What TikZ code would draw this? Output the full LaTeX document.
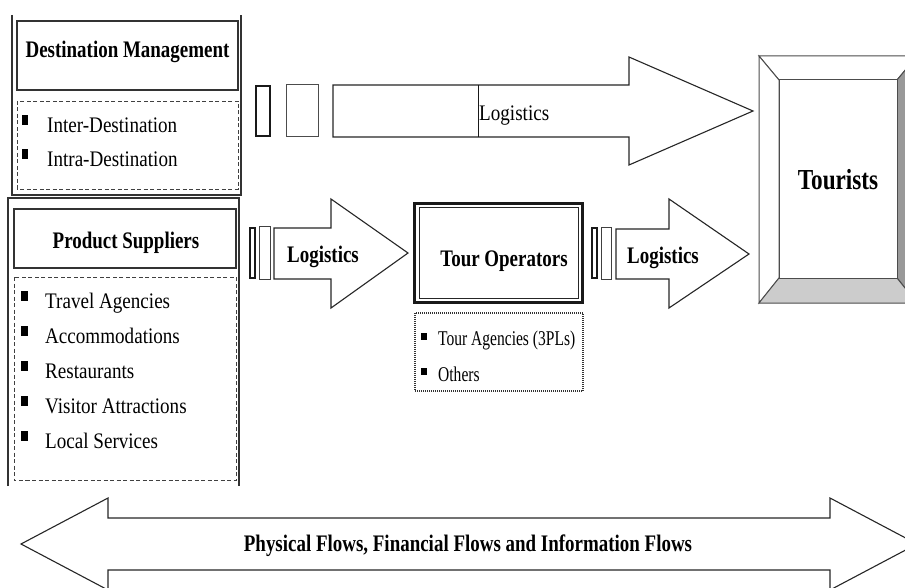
\documentclass[tikz,border=0pt]{standalone}
\usepackage{fontspec}
\setmainfont{Liberation Serif}[FakeStretch=0.86]
\newfontfamily\boldcond{Liberation Serif}[FakeStretch=0.8]
\newfontfamily\narrowfont{Liberation Serif}[FakeStretch=0.74]
\begin{document}
\begin{tikzpicture}[x=1pt,y=-1pt,line join=miter,
  frame/.style={draw=black!80,line width=1.1pt},
  dbox/.style={draw=black!75,line width=0.9pt,dash pattern=on 4pt off 2.5pt},
  dotbox/.style={draw=black!80,line width=1.3pt,dash pattern=on 1pt off 1pt},
  blockarrow/.style={draw=black!85,line width=1.1pt,fill=white},
  ttl/.style={font=\fontsize{23.7}{28}\boldcond\bfseries,inner sep=0pt,anchor=base},
  itm/.style={font=\fontsize{22.2}{27}\selectfont,inner sep=0pt,anchor=base west},
  sitm/.style={font=\fontsize{21}{25}\narrowfont,inner sep=0pt,anchor=base west}]
\useasboundingbox (0,0) rectangle (905,588);
\clip (0,0) rectangle (905,588);

% ---------- Destination Management group ----------
\draw[frame] (12,15) -- (12,195) -- (241,195) -- (241,15);
\draw[frame] (17,21) rectangle (238,90);
\node[ttl] (dm) at (127.5,58) {Destination Management};
\draw[dbox] (17,101) rectangle (238,189);
\fill (22,115) rectangle (28,125);
\node[itm] (inter) at (47,133) {Inter-Destination};
\fill (22,149) rectangle (28,159);
\node[itm] (intra) at (47,167) {Intra-Destination};

% ---------- Product Suppliers group ----------
\draw[frame] (8,486) -- (8,198) -- (239,198) -- (239,486);
\draw[frame] (14,209) rectangle (236,268);
\node[ttl] (ps) at (126,248) {Product Suppliers};
\draw[dbox] (14,277) rectangle (236,480);
\foreach \yy/\txt/\nm in {308/Travel Agencies/ta,343/Accommodations/ac,378/Restaurants/re,413/Visitor Attractions/va,448/Local Services/ls}{
  \fill (21,\yy-17) rectangle (28,\yy-7);
  \node[itm] (\nm) at (45,\yy) {\txt};
}

% ---------- Top logistics arrow ----------
\draw[draw=black!90,line width=2pt] (256,86) rectangle (270,136);
\draw[draw=black!70,line width=1pt] (286,85) rectangle (318,137);
\draw[blockarrow] (333,85) -- (629,85) -- (629,57) -- (753,111) -- (629,165) -- (629,137) -- (333,137) -- cycle;
\draw[black!90,line width=0.7pt] (478,85) -- (478,137);
\node[itm] (lt) at (479,121) {Logistics};

% ---------- Middle left logistics arrow ----------
\draw[draw=black!90,line width=1.8pt] (250,228) rectangle (255,278);
\draw[draw=black!75,line width=1pt] (259,227) rectangle (270,279);
\draw[blockarrow] (274,228) -- (331,228) -- (331,199) -- (408,253) -- (331,308) -- (331,279) -- (274,279) -- cycle;
\node[ttl] (l1) at (323,262) {Logistics};

% ---------- Tour Operators ----------
\draw[draw=black!90,line width=3pt] (414.5,203.5) rectangle (582.5,302.5);
\draw[draw=black!85,line width=1.6pt] (419.5,207.5) rectangle (578.5,298.5);
\node[ttl] (to) at (504,266) {Tour Operators};
\draw[dotbox] (415,313) rectangle (583,391);
\fill (421,333) rectangle (427,340);
\node[sitm] (tag) at (438,345) {Tour Agencies (3PLs)};
\fill (421,368) rectangle (427,375);
\node[sitm] (oth) at (438,381) {Others};

% ---------- Middle right logistics arrow ----------
\draw[draw=black!90,line width=1.8pt] (592,228) rectangle (597,278);
\draw[draw=black!75,line width=1pt] (601,228) rectangle (611,279);
\draw[blockarrow] (616,229) -- (669,229) -- (669,199) -- (749,254) -- (669,308) -- (669,279) -- (616,279) -- cycle;
\node[ttl] (l2) at (663,263) {Logistics};

% ---------- Tourists bevel box ----------
\begin{scope}[draw=black!70,line width=1pt]
\filldraw[fill=white] (759,56) -- (917,56) -- (897,80) -- (779,80) -- cycle;
\filldraw[fill=white] (759,56) -- (779,80) -- (779,278) -- (759,303) -- cycle;
\filldraw[fill=black!40] (917,56) -- (917,303) -- (897,278) -- (897,80) -- cycle;
\filldraw[fill=black!20] (759,303) -- (779,278) -- (897,278) -- (917,303) -- cycle;
\filldraw[fill=white] (779,80) rectangle (897,278);
\end{scope}
\node[font=\fontsize{29}{34}\boldcond\bfseries,inner sep=0pt,anchor=base] (tour) at (838,190) {Tourists};

% ---------- Bottom double arrow ----------
\draw[blockarrow] (21,544) -- (108,498) -- (108,518) -- (830,518) -- (830,498) -- (917,544) -- (830,590) -- (830,570) -- (108,570) -- (108,590) -- cycle;
\node[ttl] (flows) at (468,551) {Physical Flows, Financial Flows and Information Flows};
\end{tikzpicture}
\end{document}
